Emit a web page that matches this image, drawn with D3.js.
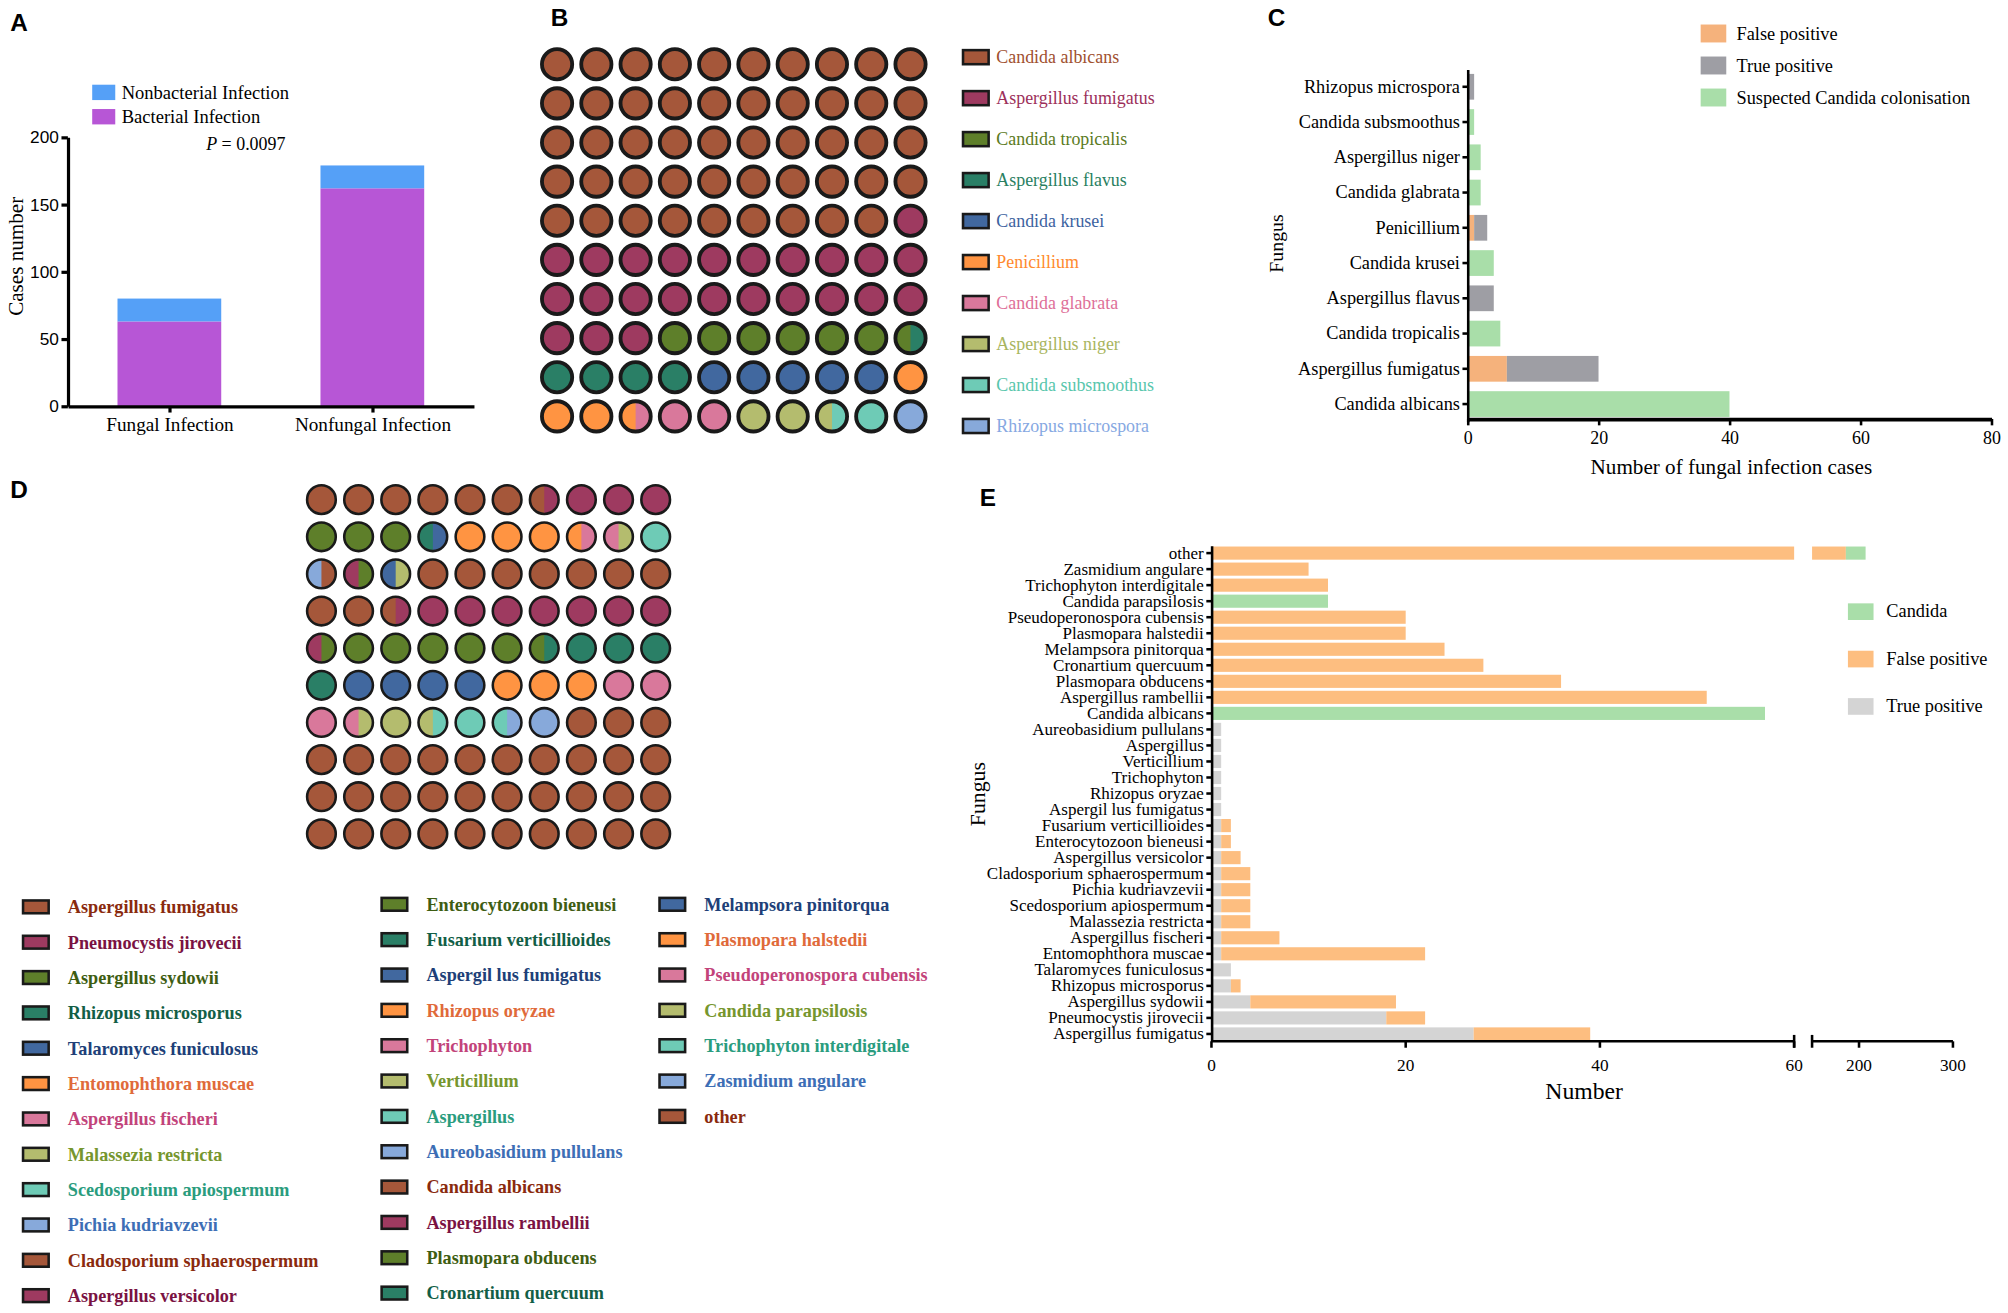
<!DOCTYPE html>
<html lang="en">
<head>
<meta charset="utf-8" />
<title>Fungal infection figure</title>
<script src="https://d3js.org/d3.v7.min.js"></script>
<style>
  body { margin: 0; background: #fff; }
  svg text { font-family: 'Liberation Serif', 'Times New Roman', serif; }
  .letter { font-family: 'Liberation Sans', Arial, sans-serif !important; font-weight: bold; font-size: 19px; }
</style>
</head>
<body>
<script>
// ---------- data ----------
// A: stacked bars
const groupsA = ['Fungal Infection', 'Nonfungal Infection'];
const bacterialA = [63, 162];
const nonbacterialA = [17, 17];
const ticksA = [0, 50, 100, 150, 200];

// B: waffle, in half-circles out of 200
const speciesB = ['Candida albicans', 'Aspergillus fumigatus', 'Candida tropicalis', 'Aspergillus flavus',
  'Candida krusei', 'Penicillium', 'Candida glabrata', 'Aspergillus niger', 'Candida subsmoothus', 'Rhizopus microspora'];
const halvesB = [98, 48, 13, 9, 10, 7, 5, 5, 3, 2];

// C: horizontal stacked bars
const fungusC = ['Candida albicans', 'Aspergillus fumigatus', 'Candida tropicalis', 'Aspergillus flavus', 'Candida krusei',
  'Penicillium', 'Candida glabrata', 'Aspergillus niger', 'Candida subsmoothus', 'Rhizopus microspora'];
const falsePosC = [0, 6, 0, 0, 0, 1, 0, 0, 0, 0];
const truePosC = [0, 14, 0, 4, 0, 2, 0, 0, 0, 1];
const candidaC = [40, 0, 5, 0, 4, 0, 2, 2, 1, 0];
const ticksC = [0, 20, 40, 60, 80];

// D: waffle, in half-circles out of 200 (same species order as E, bottom to top)
const speciesD = ['Aspergillus fumigatus', 'Pneumocystis jirovecii', 'Aspergillus sydowii', 'Rhizopus microsporus',
  'Talaromyces funiculosus', 'Entomophthora muscae', 'Aspergillus fischeri', 'Malassezia restricta',
  'Scedosporium apiospermum', 'Pichia kudriavzevii', 'Cladosporium sphaerospermum', 'Aspergillus versicolor',
  'Enterocytozoon bieneusi', 'Fusarium verticillioides', 'Aspergil lus fumigatus', 'Rhizopus oryzae', 'Trichophyton',
  'Verticillium', 'Aspergillus', 'Aureobasidium pullulans', 'Candida albicans', 'Aspergillus rambellii',
  'Plasmopara obducens', 'Cronartium quercuum', 'Melampsora pinitorqua', 'Plasmopara halstedii',
  'Pseudoperonospora cubensis', 'Candida parapsilosis', 'Trichophyton interdigitale', 'Zasmidium angulare', 'other'];
const halvesD = [13, 7, 6, 1, 1, 7, 2, 1, 2, 1, 1, 1, 1, 0, 1, 0, 0, 1, 0, 0, 19, 16, 12, 9, 8, 6, 7, 4, 4, 3, 66];

// E: horizontal stacked bars with broken axis
const truePosE = [27, 18, 4, 2, 2, 1, 1, 1, 1, 1, 1, 1, 1, 1, 1, 1, 1, 1, 1, 1, 0, 0, 0, 0, 0, 0, 0, 0, 0, 0, 0];
const falsePosE = [12, 4, 15, 1, 0, 21, 6, 3, 3, 3, 3, 2, 1, 1, 0, 0, 0, 0, 0, 0, 0, 51, 36, 28, 24, 20, 20, 0, 12, 10, 186];
const candidaE = [0, 0, 0, 0, 0, 0, 0, 0, 0, 0, 0, 0, 0, 0, 0, 0, 0, 0, 0, 0, 57, 0, 0, 0, 0, 0, 0, 12, 0, 0, 21];
const ticksE = [0, 20, 40, 60, 200, 300];

// ---------- colours ----------
const palette = ['#A5573A', '#9E3A60', '#5E7F2A', '#2A7F66', '#41689F', '#FF9442', '#D9789B', '#B4BC6E', '#6ECBB6', '#87A9DA'];
const textB = ['#A0502F', '#9C2F5A', '#5A7A22', '#2A7F62', '#3D63A0', '#FF8A2E', '#DE6F98', '#A8B560', '#58C6AC', '#86A8E2'];
const textD = ['#8A2A0E', '#7A1242', '#3E5D12', '#125E46', '#203F78', '#E06A3A', '#C2437A', '#76962E', '#2A9C7E', '#3D6EB5'];

const svg = d3.select('body').append('svg')
  .attr('width', 2008).attr('height', 1313)
  .attr('viewBox', '0 0 1568 1025');

// panel letters
[['A', 8, 24], ['B', 430, 20], ['C', 990, 20], ['D', 8, 389], ['E', 765, 395]].forEach(([t, x, y]) => {
  svg.append('text').attr('class', 'letter').attr('x', x).attr('y', y).text(t);
});

function styleAxis(g, w) {
  g.select('.domain').attr('stroke', '#000').attr('stroke-width', w);
  g.selectAll('.tick line').attr('stroke', '#000').attr('stroke-width', w);
}

// ================= Panel A =================
const yA = d3.scaleLinear().domain([0, 200]).range([317, 107]);
const xA = d3.scalePoint().domain(groupsA).range([53, 370]).padding(0.5);
const barWA = 81;

const gA = svg.append('g');
groupsA.forEach((g, i) => {
  gA.append('rect').attr('x', xA(g) - barWA / 2).attr('width', barWA)
    .attr('y', yA(bacterialA[i])).attr('height', yA(0) - yA(bacterialA[i])).attr('fill', '#B756D6');
  gA.append('rect').attr('x', xA(g) - barWA / 2).attr('width', barWA)
    .attr('y', yA(bacterialA[i] + nonbacterialA[i])).attr('height', yA(0) - yA(nonbacterialA[i])).attr('fill', '#55A0F7');
});

const axA = gA.append('g').attr('transform', 'translate(53,0)')
  .call(d3.axisLeft(yA).tickValues(ticksA).tickSize(5).tickSizeOuter(0).tickPadding(2));
styleAxis(axA, 2.5);
axA.selectAll('.tick text').style('font-family', "'Liberation Sans', Arial, sans-serif").attr('font-size', 13.5).attr('fill', '#000');

const axAx = gA.append('g').attr('transform', 'translate(0,317)')
  .call(d3.axisBottom(xA).tickSize(5).tickSizeOuter(0).tickPadding(4));
styleAxis(axAx, 2.5);
axAx.selectAll('.tick text').attr('font-size', 15).attr('fill', '#000');

gA.append('text').attr('transform', 'translate(18,200) rotate(-90)').attr('text-anchor', 'middle')
  .attr('font-size', 16.5).text('Cases number');

[['Nonbacterial Infection', '#55A0F7', 66], ['Bacterial Infection', '#B756D6', 85]].forEach(([t, c, y]) => {
  gA.append('rect').attr('x', 72).attr('y', y).attr('width', 18).attr('height', 12).attr('fill', c);
  gA.append('text').attr('x', 95).attr('y', y + 11).attr('font-size', 14.5).text(t);
});
const pt = gA.append('text').attr('x', 161).attr('y', 117).attr('font-size', 14);
pt.append('tspan').attr('font-style', 'italic').text('P');
pt.append('tspan').text(' = 0.0097');

// ================= waffle helper =================
function waffleCells(halves) {
  const seq = [];
  halves.forEach((n, k) => { for (let j = 0; j < n; j++) seq.push(k); });
  const cells = [];
  for (let i = 0; i < seq.length / 2; i++) cells.push({ i, left: seq[2 * i], right: seq[2 * i + 1] });
  return cells;
}

function drawWaffle(g, cells, xs, ys, r, sw) {
  const arcR = d3.arc().innerRadius(0).outerRadius(r).startAngle(0).endAngle(Math.PI);
  const cg = g.selectAll('g.cell').data(cells).enter().append('g')
    .attr('transform', d => `translate(${xs(d.i % 10)},${ys(Math.floor(d.i / 10))})`);
  cg.append('circle').attr('r', r).attr('fill', d => palette[d.left % 10]);
  cg.filter(d => d.left !== d.right).append('path').attr('d', arcR()).attr('fill', d => palette[d.right % 10]);
  cg.append('circle').attr('r', r).attr('fill', 'none').attr('stroke', '#1a1a1a').attr('stroke-width', sw);
}

// ================= Panel B =================
const gB = svg.append('g');
const xB = d3.scaleLinear().domain([0, 9]).range([435, 711]);
const yB = d3.scaleLinear().domain([0, 9]).range([50, 325]);
drawWaffle(gB, waffleCells(halvesB), xB, yB, 11.8, 3);

speciesB.forEach((s, i) => {
  const y = 44 + i * 32;
  gB.append('rect').attr('x', 752).attr('y', y - 5).attr('width', 20).attr('height', 11)
    .attr('fill', palette[i]).attr('stroke', '#1a1a1a').attr('stroke-width', 2);
  gB.append('text').attr('x', 778).attr('y', y + 5).attr('font-size', 14).attr('fill', textB[i]).text(s);
});

// ================= Panel C =================
const gC = svg.append('g');
const xC = d3.scaleLinear().domain([0, 80]).range([1146, 1555]);
const yC = d3.scaleBand().domain(fungusC.slice().reverse()).range([54, 329]).paddingInner(0.27).paddingOuter(0.13);
const colC = { fp: '#F5B27C', tp: '#9E9EA4', cd: '#A9DEA9' };
fungusC.forEach((f, i) => {
  let x0 = 0;
  [['fp', falsePosC[i]], ['tp', truePosC[i]], ['cd', candidaC[i]]].forEach(([k, v]) => {
    if (v > 0) {
      gC.append('rect').attr('x', xC(x0)).attr('width', xC(x0 + v) - xC(x0))
        .attr('y', yC(f)).attr('height', yC.bandwidth()).attr('fill', colC[k]);
    }
    x0 += v;
  });
});
const axCy = gC.append('g').attr('transform', 'translate(1146,0)')
  .call(d3.axisLeft(yC).tickSize(4).tickSizeOuter(0).tickPadding(2));
styleAxis(axCy, 2);
axCy.selectAll('.tick text').attr('font-size', 14.3).attr('fill', '#000');
const axCx = gC.append('g').attr('transform', 'translate(0,327)')
  .call(d3.axisBottom(xC).tickValues(ticksC).tickSize(5).tickSizeOuter(0).tickPadding(5));
styleAxis(axCx, 3);
axCx.selectAll('.tick line').attr('stroke-width', 2);
axCx.selectAll('.tick text').attr('font-size', 14).attr('fill', '#000');
gC.append('text').attr('x', 1352).attr('y', 370).attr('text-anchor', 'middle').attr('font-size', 16.5)
  .text('Number of fungal infection cases');
gC.append('text').attr('transform', 'translate(1002,190) rotate(-90)').attr('text-anchor', 'middle')
  .attr('font-size', 15.5).text('Fungus');
[['False positive', colC.fp, 26], ['True positive', colC.tp, 51], ['Suspected Candida colonisation', colC.cd, 76]].forEach(([t, c, y]) => {
  gC.append('rect').attr('x', 1328).attr('y', y - 7).attr('width', 20).attr('height', 14).attr('fill', c);
  gC.append('text').attr('x', 1356).attr('y', y + 5).attr('font-size', 14.3).text(t);
});

// ================= Panel D =================
const gD = svg.append('g');
const xD = d3.scaleLinear().domain([0, 9]).range([251, 512]);
const yD = d3.scaleLinear().domain([0, 9]).range([390, 651]);
drawWaffle(gD, waffleCells(halvesD), xD, yD, 11.2, 2);

const colsD = [[0, 12, 18, 708], [12, 24, 298, 706], [24, 31, 515, 706]];
colsD.forEach(([a, b, x, y0]) => {
  for (let i = a; i < b; i++) {
    const y = y0 + (i - a) * 27.6;
    gD.append('rect').attr('x', x).attr('y', y - 5).attr('width', 20).attr('height', 10)
      .attr('fill', palette[i % 10]).attr('stroke', '#1a1a1a').attr('stroke-width', 2);
    gD.append('text').attr('x', x + 35).attr('y', y + 5).attr('font-size', 14.2).attr('font-weight', 'bold')
      .attr('fill', textD[i % 10]).text(speciesD[i]);
  }
});

// ================= Panel E =================
const gE = svg.append('g');
const xE = d3.scaleLinear().domain([0, 60, 150, 300]).range([946, 1401, 1415, 1525]);
const pieces = [[0, 60], [150, 300]];
const yE = d3.scaleBand().domain(speciesD.slice().reverse()).range([426, 813]).paddingInner(0.18).paddingOuter(0.05);
const colE = { tp: '#D4D4D4', fp: '#FDBE80', cd: '#A9DEA9' };
speciesD.forEach((s, i) => {
  let x0 = 0;
  [['tp', truePosE[i]], ['fp', falsePosE[i]], ['cd', candidaE[i]]].forEach(([k, v]) => {
    if (v > 0) {
      pieces.forEach(([lo, hi]) => {
        const a = Math.max(x0, lo), b = Math.min(x0 + v, hi);
        if (b > a) {
          gE.append('rect').attr('x', xE(a)).attr('width', xE(b) - xE(a))
            .attr('y', yE(s)).attr('height', yE.bandwidth()).attr('fill', colE[k]);
        }
      });
    }
    x0 += v;
  });
});
const axEy = gE.append('g').attr('transform', 'translate(946,0)')
  .call(d3.axisLeft(yE).tickSize(4).tickSizeOuter(0).tickPadding(2));
styleAxis(axEy, 2);
axEy.selectAll('.tick text').attr('font-size', 13.3).attr('fill', '#000');

// broken x axis
const axE = gE.append('g').attr('transform', 'translate(0,813)');
pieces.forEach(([lo, hi]) => {
  axE.append('line').attr('x1', xE(lo)).attr('x2', xE(hi)).attr('stroke', '#000').attr('stroke-width', 2);
});
[60, 150].forEach(v => {
  axE.append('line').attr('x1', xE(v)).attr('x2', xE(v)).attr('y1', -5).attr('y2', 5).attr('stroke', '#000').attr('stroke-width', 2);
});
ticksE.forEach(v => {
  axE.append('line').attr('x1', xE(v)).attr('x2', xE(v)).attr('y1', 0).attr('y2', 5).attr('stroke', '#000').attr('stroke-width', 2);
  axE.append('text').attr('x', xE(v)).attr('y', 23).attr('text-anchor', 'middle').attr('font-size', 13.5).text(v);
});
gE.append('text').attr('x', 1237).attr('y', 858).attr('text-anchor', 'middle').attr('font-size', 18.5).text('Number');
gE.append('text').attr('transform', 'translate(769,620) rotate(-90)').attr('text-anchor', 'middle')
  .attr('font-size', 17).text('Fungus');
[['Candida', colE.cd, 477], ['False positive', colE.fp, 514], ['True positive', colE.tp, 551]].forEach(([t, c, y]) => {
  gE.append('rect').attr('x', 1443).attr('y', y - 6).attr('width', 20).attr('height', 13).attr('fill', c);
  gE.append('text').attr('x', 1473).attr('y', y + 5).attr('font-size', 14.3).text(t);
});
</script>
</body>
</html>
